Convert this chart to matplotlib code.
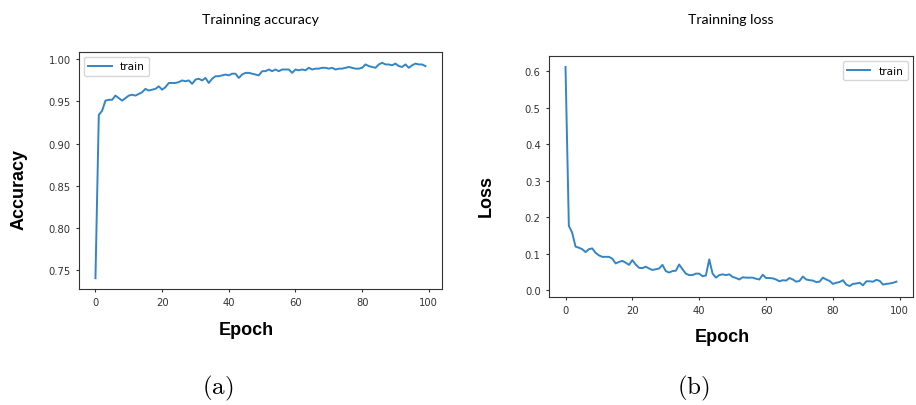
import matplotlib
matplotlib.use("Agg")
import matplotlib.pyplot as plt
import numpy as np

# Values (epochs 0..99)
epochs = np.arange(100)
train_acc = [
    0.740, 0.934, 0.939, 0.951, 0.952, 0.952, 0.957, 0.954, 0.951, 0.954,
    0.957, 0.958, 0.957, 0.959, 0.961, 0.965, 0.963, 0.964, 0.965, 0.968,
    0.964, 0.967, 0.972, 0.972, 0.972, 0.973, 0.975, 0.974, 0.975, 0.971,
    0.976, 0.977, 0.975, 0.978, 0.972, 0.977, 0.980, 0.980, 0.981, 0.982,
    0.981, 0.983, 0.983, 0.978, 0.982, 0.984, 0.984, 0.983, 0.982, 0.981,
    0.986, 0.986, 0.988, 0.986, 0.988, 0.986, 0.988, 0.988, 0.988, 0.984,
    0.988, 0.987, 0.988, 0.987, 0.990, 0.988, 0.989, 0.989, 0.990, 0.990,
    0.989, 0.990, 0.988, 0.989, 0.989, 0.990, 0.991, 0.990, 0.989, 0.989,
    0.990, 0.994, 0.992, 0.991, 0.990, 0.994, 0.996, 0.994, 0.994, 0.993,
    0.995, 0.992, 0.991, 0.994, 0.990, 0.993, 0.995, 0.994, 0.994, 0.992,
]
train_loss = [
    0.612, 0.177, 0.158, 0.120, 0.117, 0.113, 0.105, 0.113, 0.115, 0.103,
    0.096, 0.092, 0.092, 0.092, 0.087, 0.074, 0.078, 0.081, 0.076, 0.070,
    0.083, 0.071, 0.062, 0.061, 0.065, 0.060, 0.056, 0.058, 0.060, 0.070,
    0.053, 0.049, 0.053, 0.054, 0.071, 0.058, 0.046, 0.042, 0.042, 0.046,
    0.046, 0.039, 0.041, 0.085, 0.046, 0.035, 0.042, 0.044, 0.042, 0.044,
    0.037, 0.034, 0.030, 0.036, 0.035, 0.035, 0.035, 0.032, 0.030, 0.043,
    0.034, 0.034, 0.033, 0.030, 0.025, 0.028, 0.027, 0.034, 0.030, 0.024,
    0.026, 0.038, 0.030, 0.028, 0.027, 0.023, 0.024, 0.035, 0.030, 0.026,
    0.018, 0.021, 0.023, 0.028, 0.016, 0.012, 0.018, 0.019, 0.021, 0.014,
    0.025, 0.025, 0.024, 0.029, 0.026, 0.016, 0.018, 0.019, 0.021, 0.024,
]
x_ticks = [0, 20, 40, 60, 80, 100]
acc_ticks = [0.75, 0.80, 0.85, 0.90, 0.95, 1.00]
loss_ticks = [0.0, 0.1, 0.2, 0.3, 0.4, 0.5, 0.6]

line_color = "#3385c6"
plt.rcParams["mathtext.fontset"] = "cm"

fig = plt.figure(figsize=(9.16, 4.06), dpi=100)
ax_acc = fig.add_axes([0.0862, 0.2857, 0.3963, 0.5838])
ax_loss = fig.add_axes([0.5993, 0.2660, 0.3974, 0.5936])

label_font = dict(family="Liberation Sans", weight="bold", size=13)

# Accuracy
ax_acc.plot(epochs, train_acc, color=line_color, lw=1.4, label="train")
ax_acc.set_xticks(x_ticks)
ax_acc.set_yticks(acc_ticks)
ax_acc.set_yticklabels([f"{t:.2f}" for t in acc_ticks])
ax_acc.set_title("Trainning accuracy", family="Lato", fontsize=10.2, pad=21)
ax_acc.set_xlabel("Epoch", **label_font)
ax_acc.set_ylabel("Accuracy", **label_font)
ax_acc.xaxis.set_label_coords(0.46, -0.135)
ax_acc.yaxis.set_label_coords(-0.143, 0.426)
ax_acc.legend(loc="upper left", fontsize=7.6, handlelength=2.2)

# Loss
ax_loss.plot(epochs, train_loss, color=line_color, lw=1.4, label="train")
ax_loss.set_xticks(x_ticks)
ax_loss.set_yticks(loss_ticks)
ax_loss.set_title("Trainning loss", family="Lato", fontsize=10.2, pad=24)
ax_loss.set_xlabel("Epoch", **label_font)
ax_loss.set_ylabel("Loss", **label_font)
ax_loss.xaxis.set_label_coords(0.475, -0.129)
ax_loss.yaxis.set_label_coords(-0.148, 0.425)
ax_loss.legend(loc="upper right", fontsize=7.6, handlelength=2.2)

for ax in (ax_acc, ax_loss):
    ax.tick_params(labelsize=7.2, length=2.5, width=0.8, colors="#333333",
                   labelcolor="#333333")
    for s in ax.spines.values():
        s.set_color("#333333")
        s.set_linewidth(0.8)

fig.text(218 / 916, 1 - 388 / 406, r"$\mathrm{(a)}$", fontsize=18,
         ha="center", va="center")
fig.text(693 / 916, 1 - 388 / 406, r"$\mathrm{(b)}$", fontsize=18,
         ha="center", va="center")

fig.savefig("out.png", dpi=100)
